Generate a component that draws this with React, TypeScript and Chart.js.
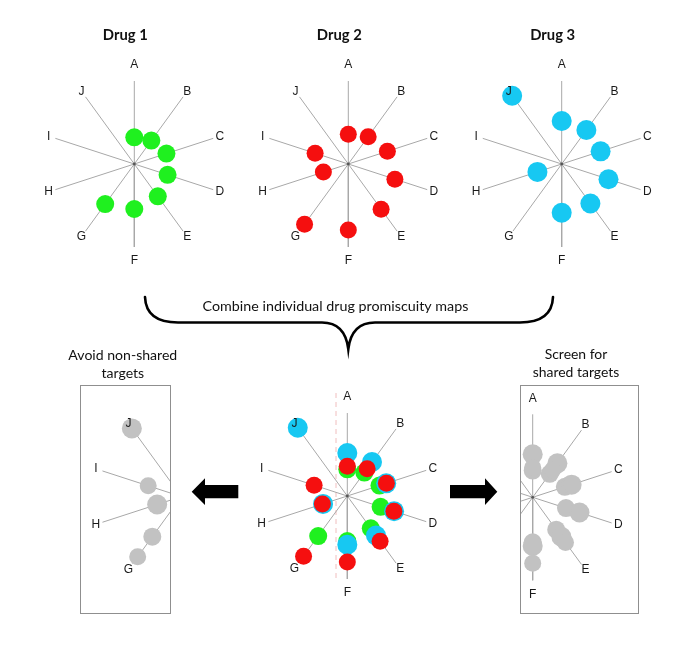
import React, { useEffect, useRef } from 'react';
import Chart from 'chart.js/auto';

// ---- data ----
const targets = ['A', 'B', 'C', 'D', 'E', 'F', 'G', 'H', 'I', 'J'];
const drug1 = [26.7, 29, 33.8, 35, 40, 45, 49.5, null, null, null];
const drug2 = [29.7, 33.8, 41.1, 49, 55.8, 66, 74.4, 26.2, 34.9, null];
const drug3 = [43, 42, 40.9, 49.2, 48.8, 48.7, null, 25.5, null, 84.3];
const drugNames = ['Drug 1', 'Drug 2', 'Drug 3'];
const sharedTargets = ['A', 'B', 'C', 'D', 'E', 'F'];
const nonSharedTargets = ['G', 'H', 'I', 'J'];
const combineText = 'Combine individual drug promiscuity maps';
const avoidText = ['Avoid non-shared', 'targets'];
const screenText = ['Screen for', 'shared targets'];

// ---- styles / layout ----
const W = 685;
const H = 645;
const SPOKE = 83;
const GREEN = '#1ff01f';
const RED = '#f50f0f';
const CYAN = '#17c8f2';
const GRAY = '#c2c2c2';
const SPOKE_COLOR = '#a8a8a8';
const drugSeries = [drug1, drug2, drug3];
const drugColors = [GREEN, RED, CYAN];
const drugRadius = [9, 8.5, 10];
const drugOrder = [3, 1, 2];

type Box = { l: number; t: number; r: number; b: number };
type Panel = { cx: number; cy: number; kind: 'single' | 'combined' | 'gray'; drug?: number; keep?: string[]; box?: Box };

const LEFT_BOX: Box = { l: 80.5, t: 385.5, r: 170.5, b: 613.5 };
const RIGHT_BOX: Box = { l: 520.5, t: 385.5, r: 638.5, b: 613.5 };

const panels: Panel[] = [
  { cx: 134.3, cy: 164, kind: 'single', drug: 0 },
  { cx: 348.3, cy: 164, kind: 'single', drug: 1 },
  { cx: 561.7, cy: 164, kind: 'single', drug: 2 },
  { cx: 347.3, cy: 496, kind: 'combined' },
  { cx: 181.4, cy: 496.6, kind: 'gray', keep: nonSharedTargets, box: LEFT_BOX },
  { cx: 532.7, cy: 497.3, kind: 'gray', keep: sharedTargets, box: RIGHT_BOX },
];

function polar(cx: number, cy: number, r: number, i: number) {
  const a = (i * Math.PI) / 5;
  return { x: cx + r * Math.sin(a), y: cy - r * Math.cos(a) };
}

function clipFor(box?: Box) {
  if (!box) return false as any;
  return { left: -box.l, top: -box.t, right: -(W - box.r), bottom: -(H - box.b) };
}

function buildDatasets() {
  const ds: any[] = [];
  panels.forEach((p) => {
    const clip = clipFor(p.box);
    targets.forEach((_, i) => {
      ds.push({
        data: [polar(p.cx, p.cy, 0, i), polar(p.cx, p.cy, SPOKE, i)],
        showLine: true,
        borderColor: SPOKE_COLOR,
        borderWidth: 1,
        pointRadius: 0,
        order: 100,
        clip,
      });
    });
    ds.push({
      data: [{ x: p.cx, y: p.cy }],
      pointRadius: 1.4,
      pointBackgroundColor: '#555',
      pointBorderWidth: 0,
      order: 50,
      clip,
    });
    const drugs = p.kind === 'single' ? [p.drug as number] : [0, 1, 2];
    drugs.forEach((d) => {
      const pts: any[] = [];
      drugSeries[d].forEach((v, i) => {
        if (v == null) return;
        if (p.keep && !p.keep.includes(targets[i])) return;
        pts.push(polar(p.cx, p.cy, v, i));
      });
      ds.push({
        data: pts,
        pointRadius: drugRadius[d],
        pointBackgroundColor: p.kind === 'gray' ? GRAY : drugColors[d],
        pointBorderWidth: 0,
        showLine: false,
        order: drugOrder[d],
        clip,
      });
    });
  });
  // faint dashed guide in the combined map
  ds.push({
    data: [{ x: 336, y: 393 }, { x: 336, y: 578 }],
    showLine: true,
    borderColor: 'rgba(235,170,170,0.75)',
    borderDash: [5, 4],
    borderWidth: 1,
    pointRadius: 0,
    order: 101,
  });
  return ds;
}

function fitText(ctx: CanvasRenderingContext2D, text: string, cx: number, cy: number, width: number, weight: string, family: string, size?: number) {
  let s = size;
  if (!s) {
    ctx.font = `${weight} 20px ${family}`;
    const w = ctx.measureText(text).width;
    s = (20 * width) / w;
  }
  ctx.font = `${weight} ${s}px ${family}`;
  ctx.fillText(text, cx, cy);
  return s;
}

const decorPlugin = {
  id: 'decor',
  afterDatasetsDraw(chart: any) {
    const ctx: CanvasRenderingContext2D = chart.ctx;
    const X = (v: number) => chart.scales.x.getPixelForValue(v);
    const Y = (v: number) => chart.scales.y.getPixelForValue(v);
    ctx.save();
    ctx.textAlign = 'center';
    ctx.textBaseline = 'middle';
    // spoke labels
    panels.forEach((p) => {
      ctx.save();
      if (p.box) {
        ctx.beginPath();
        ctx.rect(X(p.box.l), Y(p.box.t), X(p.box.r) - X(p.box.l), Y(p.box.b) - Y(p.box.t));
        ctx.clip();
      }
      ctx.fillStyle = '#1a1a1a';
      ctx.font = '12px "Liberation Sans", Arial, sans-serif';
      targets.forEach((t, i) => {
        const r = i === 0 ? 99 : i === 5 ? 97 : 90;
        const q = polar(p.cx, p.cy, r, i);
        ctx.fillText(t, X(q.x), Y(q.y));
      });
      ctx.restore();
    });
    const fam = 'Lato, "Open Sans", sans-serif';
    ctx.fillStyle = '#111';
    // titles
    drugNames.forEach((n, k) => {
      fitText(ctx, n, X(panels[k].cx - 9), Y(35), 45, 'bold', fam);
    });
    // combine text
    fitText(ctx, combineText, X(335.5), Y(306.5), 266, 'normal', fam);
    const s1 = fitText(ctx, avoidText[0], X(122.8), Y(355), 109, 'normal', fam);
    fitText(ctx, avoidText[1], X(122.8), Y(373), 0, 'normal', fam, s1);
    ctx.font = `normal 20px ${fam}`;
    const sw = ctx.measureText(screenText[1]).width;
    const s2 = (20 * 86.7) / sw;
    fitText(ctx, screenText[0], X(576), Y(355), 0, 'normal', fam, s2);
    fitText(ctx, screenText[1], X(576), Y(373), 0, 'normal', fam, s2);
    // boxes
    ctx.strokeStyle = '#8f8f8f';
    ctx.lineWidth = 1;
    [LEFT_BOX, RIGHT_BOX].forEach((b) => {
      ctx.strokeRect(X(b.l), Y(b.t), X(b.r) - X(b.l), Y(b.b) - Y(b.t));
    });
    // brace
    ctx.strokeStyle = '#000';
    ctx.lineWidth = 2.6;
    ctx.lineCap = 'round';
    ctx.beginPath();
    ctx.moveTo(X(145), Y(297));
    ctx.quadraticCurveTo(X(146), Y(322.5), X(178), Y(322.5));
    ctx.lineTo(X(322), Y(322.5));
    ctx.quadraticCurveTo(X(345), Y(322.5), X(348.3), Y(349));
    ctx.quadraticCurveTo(X(351.6), Y(322.5), X(375), Y(322.5));
    ctx.lineTo(X(520), Y(322.5));
    ctx.quadraticCurveTo(X(552), Y(322.5), X(553), Y(297));
    ctx.stroke();
    // arrows
    ctx.fillStyle = '#000';
    const arrow = (pts: number[][]) => {
      ctx.beginPath();
      pts.forEach(([x, y], i) => (i ? ctx.lineTo(X(x), Y(y)) : ctx.moveTo(X(x), Y(y))));
      ctx.closePath();
      ctx.fill();
    };
    arrow([[191.7, 491.7], [205, 478.3], [205, 485], [238.3, 485], [238.3, 498.3], [205, 498.3], [205, 505]]);
    arrow([[497.3, 491.7], [485, 478.3], [485, 485], [450, 485], [450, 498.3], [485, 498.3], [485, 505]]);
    ctx.restore();
  },
};

export default function App() {
  const ref = useRef<HTMLCanvasElement | null>(null);
  useEffect(() => {
    if (!ref.current) return;
    const chart = new Chart(ref.current, {
      type: 'scatter',
      data: { datasets: buildDatasets() },
      options: {
        responsive: false,
        maintainAspectRatio: false,
        devicePixelRatio: 1,
        animation: false,
        layout: { padding: 0, autoPadding: false },
        events: [],
        scales: {
          x: { type: 'linear', min: 0, max: W, display: false },
          y: { type: 'linear', min: 0, max: H, reverse: true, display: false },
        },
        plugins: { legend: { display: false }, tooltip: { enabled: false } },
      },
      plugins: [decorPlugin],
    } as any);
    return () => chart.destroy();
  }, []);
  return (
    <div style={{ position: 'absolute', left: 0, top: 0, width: W, height: H, background: '#fff' }}>
      <canvas ref={ref} width={W} height={H} style={{ display: 'block', width: W, height: H }} />
    </div>
  );
}
